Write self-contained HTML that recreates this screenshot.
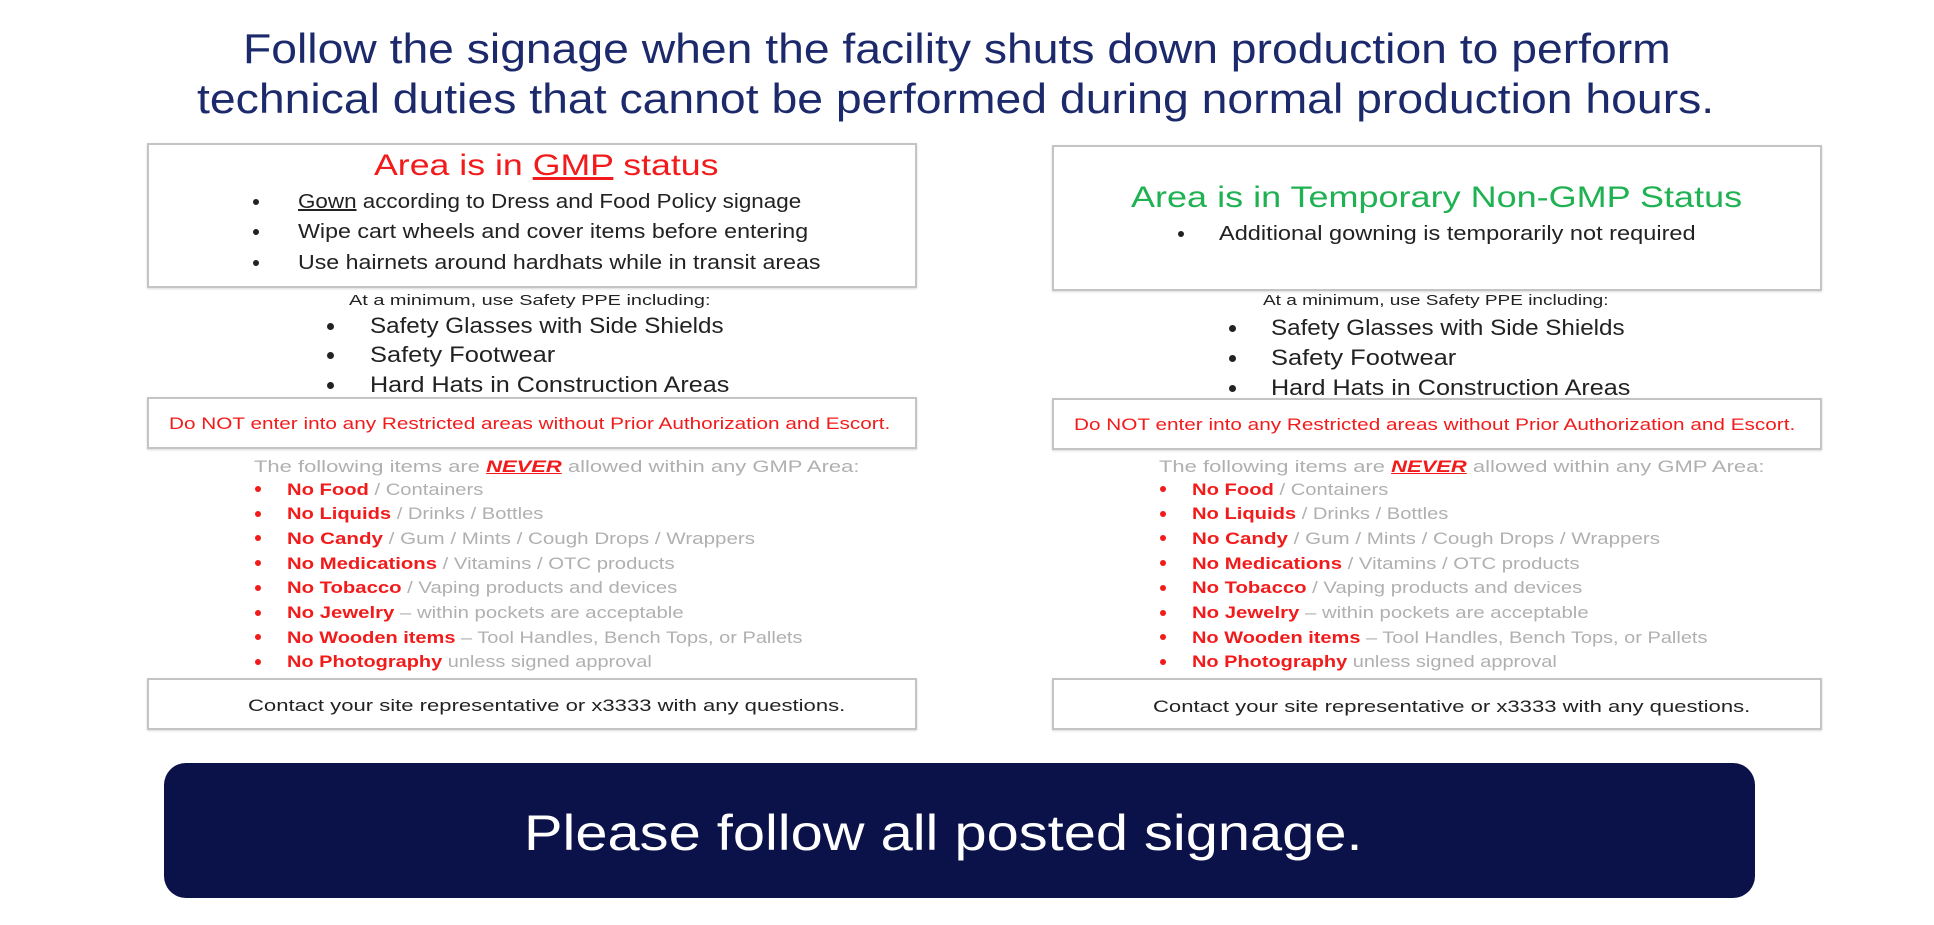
<!DOCTYPE html>
<html><head><meta charset="utf-8">
<style>
html,body{margin:0;padding:0;background:#fff;}
#page{position:relative;width:1934px;height:925px;overflow:hidden;background:#fff;font-family:"Liberation Sans",sans-serif;}
.t{position:absolute;white-space:nowrap;line-height:1;transform-origin:0 50%;}
.box{position:absolute;border:2px solid #c4c4c4;box-shadow:0 1px 2px rgba(0,0,0,0.15);background:#fff;box-sizing:border-box;}
.dot{position:absolute;border-radius:50%;}
#banner{position:absolute;left:164px;top:763px;width:1591px;height:135px;background:#0b1249;border-radius:22px;}
</style></head>
<body>
<div id="page">
  <div class="box" style="left:147px;top:143px;width:770px;height:145px;"></div>
  <div class="box" style="left:1052px;top:145px;width:770px;height:146px;"></div>
  <div class="box" style="left:147px;top:397px;width:770px;height:52px;"></div>
  <div class="box" style="left:1052px;top:398px;width:770px;height:52px;"></div>
  <div class="box" style="left:147px;top:678px;width:770px;height:52px;"></div>
  <div class="box" style="left:1052px;top:678px;width:770px;height:52px;"></div>
  <div id="banner"></div>
</div>
<script>
const page = document.getElementById('page');
const navy = '#1c2a6c', red = '#f21b1b', green = '#1fb152', dark = '#222', gray = '#b0b0b0';
// [name, html, left, centerY, targetWidth, fontSize, color, bold]
const lines = [
 ['title-line-1','Follow the signage when the facility shuts down production to perform',243,49,1428,42,navy,0],
 ['title-line-2','technical duties that cannot be performed during normal production hours.',197,99,1517,42,navy,0],
 ['gmp-heading','Area is in <u>GMP</u> status',374,166,345,30,red,0],
 ['gmp-bullet-gown','<u>Gown</u> according to Dress and Food Policy signage',298,202,503,20,dark,0],
 ['gmp-bullet-wipe','Wipe cart wheels and cover items before entering',298,232,510,20,dark,0],
 ['gmp-bullet-hairnets','Use hairnets around hardhats while in transit areas',298,263,522,20,dark,0],
 ['ppe-intro-left','At a minimum, use Safety PPE including:',349,300,362,15,dark,0],
 ['ppe-glasses-left','Safety Glasses with Side Shields',370,326,354,22,dark,0],
 ['ppe-footwear-left','Safety Footwear',370,355,185,22,dark,0],
 ['ppe-hardhats-left','Hard Hats in Construction Areas',370,385,359,22,dark,0],
 ['restricted-text-left','Do NOT enter into any Restricted areas without Prior Authorization and Escort.',169,423,721,17,red,0],
 ['never-intro-left','The following items are <b style="color:'+red+'"><u><i>NEVER</i></u></b> allowed within any GMP Area:',254,466,605,17,gray,0],
 ['non-gmp-heading','Area is in Temporary Non-GMP Status',1131,198,611,30,green,0],
 ['non-gmp-bullet','Additional gowning is temporarily not required',1219,234,477,20,dark,0],
 ['ppe-intro-right','At a minimum, use Safety PPE including:',1263,300,346,15,dark,0],
 ['ppe-glasses-right','Safety Glasses with Side Shields',1271,328,354,22,dark,0],
 ['ppe-footwear-right','Safety Footwear',1271,358,185,22,dark,0],
 ['ppe-hardhats-right','Hard Hats in Construction Areas',1271,388,359,22,dark,0],
 ['restricted-text-right','Do NOT enter into any Restricted areas without Prior Authorization and Escort.',1074,424,721,17,red,0],
 ['never-intro-right','The following items are <b style="color:'+red+'"><u><i>NEVER</i></u></b> allowed within any GMP Area:',1159,466,605,17,gray,0],
 ['contact-text-left','Contact your site representative or x3333 with any questions.',248,705,597,17,dark,0],
 ['contact-text-right','Contact your site representative or x3333 with any questions.',1153,706,597,17,dark,0],
 ['banner-text','Please follow all posted signage.',524,833,838,50,'#fff',0]
];
const items = [
 ['No Food',' / Containers',196],
 ['No Liquids',' / Drinks / Bottles',256],
 ['No Candy',' / Gum / Mints / Cough Drops / Wrappers',468],
 ['No Medications',' / Vitamins / OTC products',388],
 ['No Tobacco',' / Vaping products and devices',390],
 ['No Jewelry',' \u2013 within pockets are acceptable',397],
 ['No Wooden items',' \u2013 Tool Handles, Bench Tops, or Pallets',515],
 ['No Photography',' unless signed approval',365]
];
const itemY0 = 489, itemStep = 24.7;
items.forEach((it,i)=>{
  [0,905].forEach((off,s)=>{
    lines.push([(s?'right':'left')+'-never-item-'+(i+1),'<span style="color:'+red+';font-weight:bold">'+it[0]+'</span>'+it[1],287+off,itemY0+i*itemStep,it[2],17,gray,0]);
  });
});
// bullets: [name, x, y, size, color]
const dots = [
 ['gmp-dot-1',256,202,6,dark],['gmp-dot-2',256,232,6,dark],['gmp-dot-3',256,263,6,dark],
 ['ppe-dot-left-1',330,326,7,dark],['ppe-dot-left-2',330,355,7,dark],['ppe-dot-left-3',330,385,7,dark],
 ['non-gmp-dot',1181,234,6,dark],
 ['ppe-dot-right-1',1232,328,7,dark],['ppe-dot-right-2',1232,358,7,dark],['ppe-dot-right-3',1232,388,7,dark]
];
items.forEach((it,i)=>{dots.push(['left-item-dot-'+(i+1),258,itemY0+i*itemStep,6,red]);dots.push(['right-item-dot-'+(i+1),1163,itemY0+i*itemStep,6,red]);});

lines.forEach(l=>{
  const el = document.createElement('div');
  el.className = 't';
  
  
  el.innerHTML = l[1];
  el.style.left = l[2]+'px';
  el.style.fontSize = l[5]+'px';
  el.style.top = (l[3]-l[5]*0.5)+'px';
  el.style.height = l[5]+'px';
  el.style.color = l[6];
  page.appendChild(el);
  const w = el.scrollWidth;
  el.style.transform = 'scaleX('+(l[4]/w)+')';
});
dots.forEach(d=>{
  const el = document.createElement('div');
  el.className = 'dot';
  
  
  el.style.left = (d[1]-d[3]/2)+'px';
  el.style.top = (d[2]-d[3]/2)+'px';
  el.style.width = d[3]+'px';
  el.style.height = d[3]+'px';
  el.style.background = d[4];
  page.appendChild(el);
});
</script>
</body></html>
